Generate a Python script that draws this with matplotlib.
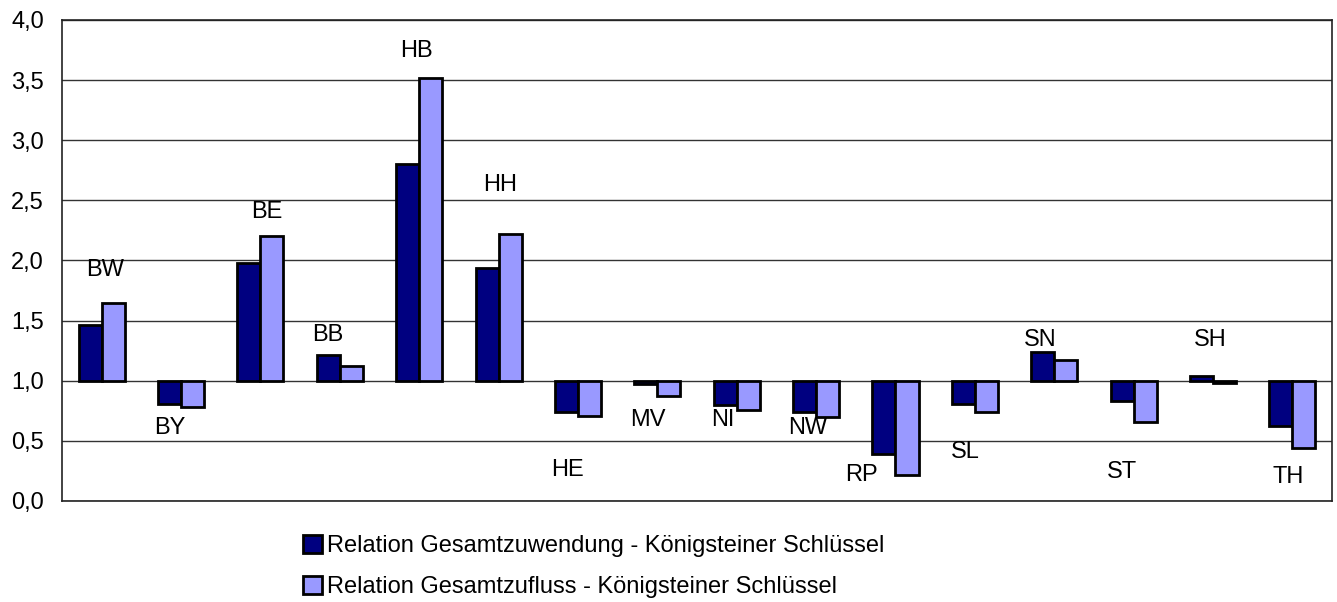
import numpy as np
import matplotlib
matplotlib.use('Agg')
import matplotlib.pyplot as plt

plt.rcParams['font.family'] = ['Liberation Sans', 'DejaVu Sans']

laender = ['BW', 'BY', 'BE', 'BB', 'HB', 'HH', 'HE', 'MV',
           'NI', 'NW', 'RP', 'SL', 'SN', 'ST', 'SH', 'TH']
zuwendung = [1.46, 0.81, 1.98, 1.21, 2.80, 1.94, 0.74, 0.97,
             0.80, 0.74, 0.39, 0.81, 1.24, 0.83, 1.04, 0.62]
zufluss = [1.65, 0.785, 2.20, 1.125, 3.52, 2.22, 0.71, 0.87,
           0.76, 0.70, 0.22, 0.74, 1.17, 0.655, 0.985, 0.44]
yticks = [0.0, 0.5, 1.0, 1.5, 2.0, 2.5, 3.0, 3.5, 4.0]

# where the state labels sit (data units)
label_y = [1.92, 0.61, 2.40, 1.38, 3.74, 2.63, 0.26, 0.67,
           0.67, 0.61, 0.22, 0.41, 1.34, 0.24, 1.34, 0.20]
label_dx = [0.04, -0.14, 0.08, -0.15, -0.03, 0.02, -0.13, -0.12,
            -0.18, -0.11, -0.43, -0.12, -0.18, -0.15, -0.03, -0.05]

fig = plt.figure(figsize=(13.37, 6.02), dpi=100)
ax = fig.add_axes([0.0464, 0.1678, 0.9499, 0.799])

x = np.arange(len(laender))
w = 0.29
ax.bar(x - w / 2, np.array(zuwendung) - 1, w, bottom=1, color='#000080',
       edgecolor='black', linewidth=2.0, zorder=3,
       label='Relation Gesamtzuwendung - Königsteiner Schlüssel')
ax.bar(x + w / 2, np.array(zufluss) - 1, w, bottom=1, color='#9999FF',
       edgecolor='black', linewidth=2.0, zorder=3,
       label='Relation Gesamtzufluss - Königsteiner Schlüssel')

for i, name in enumerate(laender):
    ax.text(x[i] + label_dx[i], label_y[i], name, ha='center', va='center',
            fontsize=17, zorder=4)

ax.set_xlim(-0.5, len(laender) - 0.5)
ax.set_ylim(0, 4)
ax.set_yticks(yticks)
ax.set_yticklabels([f'{t:.1f}'.replace('.', ',') for t in yticks], fontsize=17)
ax.set_xticks([])
ax.tick_params(axis='y', length=0, pad=13)
ax.yaxis.grid(True, color='#333333', linewidth=1.0, zorder=0)
for s in ax.spines.values():
    s.set_color('#222222')
    s.set_linewidth(1.2)

fig.legend(loc='upper left', bbox_to_anchor=(0.2266, 0.111), frameon=False,
           fontsize=17, handlelength=0.8, handleheight=0.8, handletextpad=0.2,
           labelspacing=0.78, borderpad=0, borderaxespad=0)

fig.savefig('out.png', dpi=100)
